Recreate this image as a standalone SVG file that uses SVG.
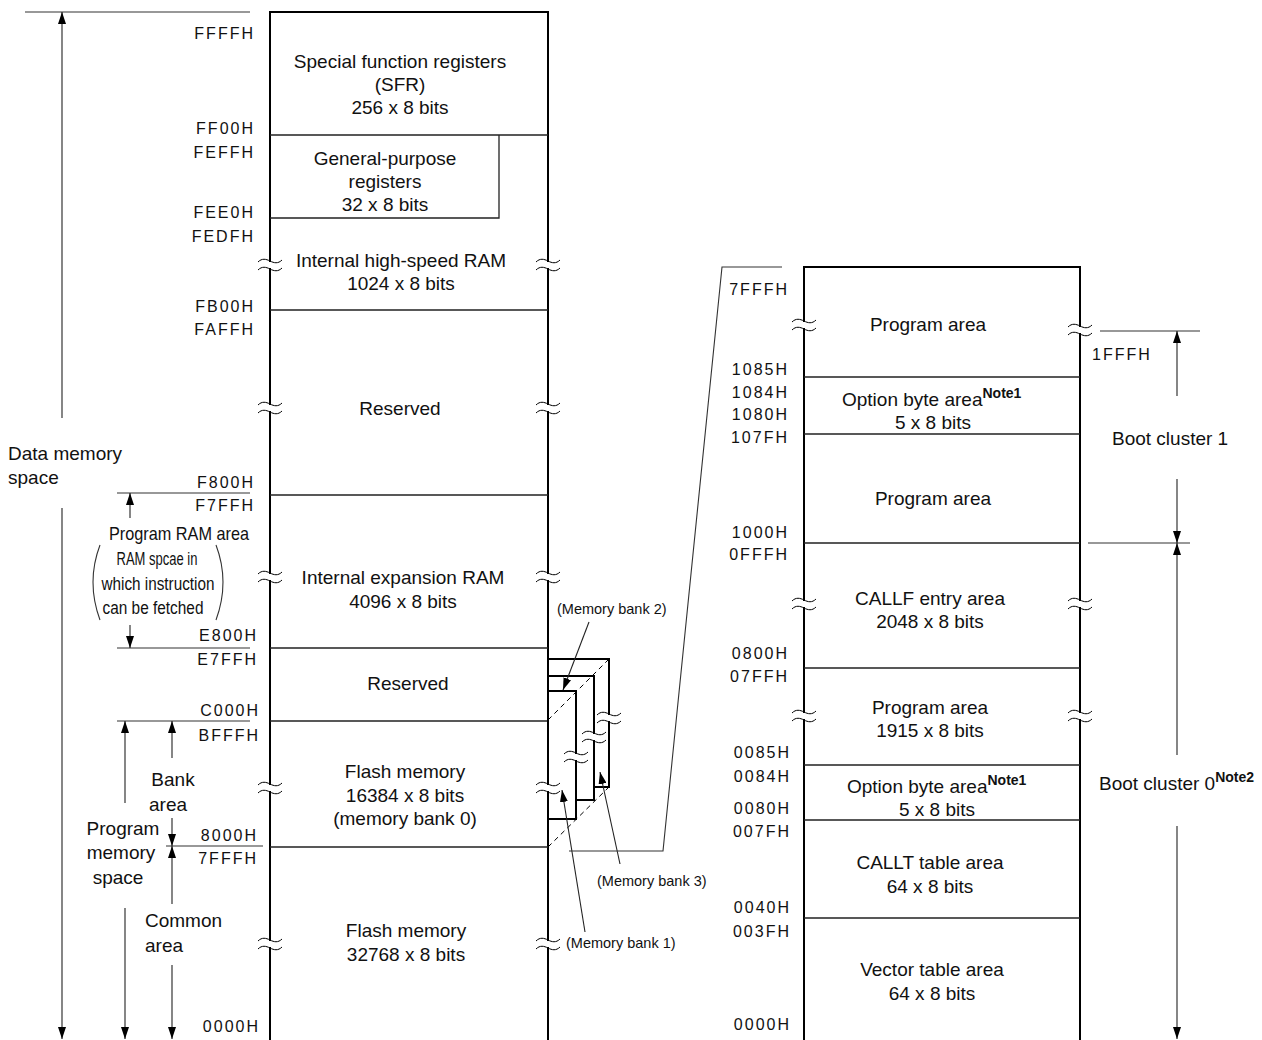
<svg xmlns="http://www.w3.org/2000/svg" xmlns:xlink="http://www.w3.org/1999/xlink" width="1262" height="1040" viewBox="0 0 1262 1040">
<style>
text{font-family:"Liberation Sans",Arial,sans-serif;fill:#111}
.t{font-size:19px;text-anchor:middle}
.ts{font-size:19px}
.a{font-size:16px;letter-spacing:2px;text-anchor:end}
.al{font-size:16px;letter-spacing:2px}
.sm{font-size:17.5px;text-anchor:middle}
.mb{font-size:14.5px}
.sup{font-size:14px;font-weight:bold}
.col{stroke:#000;stroke-width:2;fill:none}
.div{stroke:#222;stroke-width:1.3;fill:none}
.thin{stroke:#333;stroke-width:1.1;fill:none}
.arr{stroke:#222;stroke-width:1.1;fill:none;marker-end:url(#ah)}
.bank{stroke:#000;stroke-width:2;fill:#fff}
.dash{stroke:#000;stroke-width:1;stroke-dasharray:5,4;fill:none}
</style>
<defs>
<marker id="ah" markerUnits="userSpaceOnUse" viewBox="0 0 12 8" markerWidth="12" markerHeight="8" refX="12" refY="4" orient="auto">
<path d="M0,0 L12,4 L0,8 z" fill="#000"/>
</marker>
<g id="brk">
<rect x="-3" y="-3" width="6" height="6" fill="#fff"/>
<path d="M-12,-3 C-8,-7 -4,-6 0,-4 S8,-1 12,-5 M-12,5 C-8,1 -4,2 0,4 S8,7 12,3" fill="none" stroke="#000" stroke-width="1"/>
</g>
</defs>
<rect width="1262" height="1040" fill="#fff"/>

<!-- left memory column -->
<g id="data-column">
<path class="col" d="M270,1040 V12 H548 V1040"/>
<path class="div" d="M270,135 H548 M270,218 H499 V135 M270,310 H548 M270,495 H548 M270,648 H548 M270,721 H548 M270,847 H548"/>
</g>
<g id="sfr"><text class="t" x="400" y="68">Special function registers</text><text class="t" x="400" y="91">(SFR)</text><text class="t" x="400" y="114">256 x 8 bits</text></g>
<g id="gpr"><text class="t" x="385" y="165">General-purpose</text><text class="t" x="385" y="188">registers</text><text class="t" x="385" y="211">32 x 8 bits</text></g>
<g id="hsram"><text class="t" x="401" y="267">Internal high-speed RAM</text><text class="t" x="401" y="290">1024 x 8 bits</text></g>
<g id="reserved1"><text class="t" x="400" y="415">Reserved</text></g>
<g id="exram"><text class="t" x="403" y="584">Internal expansion RAM</text><text class="t" x="403" y="608">4096 x 8 bits</text></g>
<g id="reserved2"><text class="t" x="408" y="690">Reserved</text></g>
<g id="flash-bank"><text class="t" x="405" y="778">Flash memory</text><text class="t" x="405" y="802">16384 x 8 bits</text><text class="t" x="405" y="825">(memory bank 0)</text></g>
<g id="flash-common"><text class="t" x="406" y="937">Flash memory</text><text class="t" x="406" y="961">32768 x 8 bits</text></g>

<!-- memory banks -->
<g id="banks">
<rect class="bank" x="548" y="659" width="61" height="128"/>
<rect class="bank" x="548" y="676" width="46" height="124"/>
<rect class="bank" x="548" y="691" width="28" height="128"/>
<path class="dash" d="M548,720 L609,659 M548,847 L609,787"/>
</g>

<!-- left addresses -->
<g id="left-addresses">
<text class="a" x="255" y="39">FFFFH</text>
<text class="a" x="255" y="134">FF00H</text>
<text class="a" x="255" y="158">FEFFH</text>
<text class="a" x="255" y="218">FEE0H</text>
<text class="a" x="255" y="242">FEDFH</text>
<text class="a" x="255" y="312">FB00H</text>
<text class="a" x="255" y="335">FAFFH</text>
<text class="a" x="255" y="488">F800H</text>
<text class="a" x="255" y="511">F7FFH</text>
<text class="a" x="258" y="641">E800H</text>
<text class="a" x="258" y="665">E7FFH</text>
<text class="a" x="260" y="716">C000H</text>
<text class="a" x="260" y="741">BFFFH</text>
<text class="a" x="258" y="841">8000H</text>
<text class="a" x="258" y="864">7FFFH</text>
<text class="a" x="260" y="1032">0000H</text>
</g>

<!-- left annotations -->
<g id="left-labels">
<text class="ts" x="8" y="460">Data memory</text>
<text class="ts" x="8" y="484">space</text>
<text class="ts" x="109" y="540" textLength="140" lengthAdjust="spacingAndGlyphs">Program RAM area</text>
<text class="sm" x="157" y="565" textLength="81" lengthAdjust="spacingAndGlyphs">RAM spcae in</text>
<text class="sm" x="158" y="590" textLength="113" lengthAdjust="spacingAndGlyphs">which instruction</text>
<text class="sm" x="153" y="614" textLength="101" lengthAdjust="spacingAndGlyphs">can be fetched</text>
<path class="thin" d="M100,545 Q86,582 100,620 M216,545 Q230,582 216,620"/>
<text class="t" x="173" y="786">Bank</text>
<text class="t" x="168" y="811">area</text>
<text class="t" x="123" y="835">Program</text>
<text class="t" x="121" y="859">memory</text>
<text class="t" x="118" y="884">space</text>
<text class="ts" x="145" y="927">Common</text>
<text class="ts" x="145" y="952">area</text>
</g>

<!-- right memory column -->
<g id="code-column">
<path class="col" d="M804,1040 V267 H1080 V1040"/>
<path class="div" d="M804,377 H1080 M804,434 H1080 M804,543 H1080 M804,668 H1080 M804,765 H1080 M804,820 H1080 M804,918 H1080"/>
</g>
<g id="prog1"><text class="t" x="928" y="331">Program area</text></g>
<g id="opt1"><text class="ts" x="842" y="406">Option byte area<tspan class="sup" dy="-8">Note1</tspan></text><text class="t" x="933" y="429">5 x 8 bits</text></g>
<g id="prog2"><text class="t" x="933" y="505">Program area</text></g>
<g id="callf"><text class="t" x="930" y="605">CALLF entry area</text><text class="t" x="930" y="628">2048 x 8 bits</text></g>
<g id="prog3"><text class="t" x="930" y="714">Program area</text><text class="t" x="930" y="737">1915 x 8 bits</text></g>
<g id="opt0"><text class="ts" x="847" y="793">Option byte area<tspan class="sup" dy="-8">Note1</tspan></text><text class="t" x="937" y="816">5 x 8 bits</text></g>
<g id="callt"><text class="t" x="930" y="869">CALLT table area</text><text class="t" x="930" y="893">64 x 8 bits</text></g>
<g id="vector"><text class="t" x="932" y="976">Vector table area</text><text class="t" x="932" y="1000">64 x 8 bits</text></g>

<g id="right-addresses">
<text class="a" x="789" y="295">7FFFH</text>
<text class="a" x="789" y="375">1085H</text>
<text class="a" x="789" y="398">1084H</text>
<text class="a" x="789" y="420">1080H</text>
<text class="a" x="789" y="443">107FH</text>
<text class="a" x="789" y="538">1000H</text>
<text class="a" x="789" y="560">0FFFH</text>
<text class="a" x="789" y="659">0800H</text>
<text class="a" x="789" y="682">07FFH</text>
<text class="a" x="791" y="758">0085H</text>
<text class="a" x="791" y="782">0084H</text>
<text class="a" x="791" y="814">0080H</text>
<text class="a" x="791" y="837">007FH</text>
<text class="a" x="791" y="913">0040H</text>
<text class="a" x="791" y="937">003FH</text>
<text class="a" x="791" y="1030">0000H</text>
<text class="al" x="1092" y="360">1FFFH</text>
</g>
<g id="right-labels">
<text class="ts" x="1112" y="445">Boot cluster 1</text>
<text class="ts" x="1099" y="790">Boot cluster 0<tspan class="sup" dy="-8">Note2</tspan></text>
</g>
<g id="bank-labels">
<text class="mb" x="557" y="614">(Memory bank 2)</text>
<text class="mb" x="597" y="886">(Memory bank 3)</text>
<text class="mb" x="566" y="948">(Memory bank 1)</text>
</g>

<!-- connectors -->
<g id="connectors">
<path class="thin" d="M25,12 H250 M117,493 H250 M117,648 H250 M117,721 H250 M166,846 H263 M1100,331 H1200 M1088,543 H1190"/>
<path class="arr" d="M62,418 V12"/>
<path class="arr" d="M62,508 V1039"/>
<path class="arr" d="M130,518 V493"/>
<path class="arr" d="M130,625 V648"/>
<path class="arr" d="M125,803 V721"/>
<path class="arr" d="M125,908 V1039"/>
<path class="arr" d="M172,758 V721"/>
<path class="arr" d="M172,818 V846"/>
<path class="arr" d="M172,904 V846"/>
<path class="arr" d="M172,965 V1039"/>
<path class="arr" d="M1177,396 V331"/>
<path class="arr" d="M1177,479 V543"/>
<path class="arr" d="M1177,755 V543"/>
<path class="arr" d="M1177,826 V1039"/>
<path class="arr" d="M589,622 L563,690"/>
<path class="arr" d="M620,864 L600,772"/>
<path class="arr" d="M585,932 L562,790"/>
<path class="thin" d="M569,851 H663 L722,267 H782"/>
</g>

<!-- break marks -->
<g id="breaks">
<use xlink:href="#brk" x="270" y="265"/><use xlink:href="#brk" x="548" y="265"/>
<use xlink:href="#brk" x="270" y="408"/><use xlink:href="#brk" x="548" y="408"/>
<use xlink:href="#brk" x="270" y="577"/><use xlink:href="#brk" x="548" y="577"/>
<use xlink:href="#brk" x="270" y="788"/><use xlink:href="#brk" x="548" y="788"/>
<use xlink:href="#brk" x="270" y="944"/><use xlink:href="#brk" x="548" y="944"/>
<use xlink:href="#brk" x="609" y="718"/><use xlink:href="#brk" x="594" y="737"/><use xlink:href="#brk" x="576" y="757"/>
<use xlink:href="#brk" x="804" y="325"/><use xlink:href="#brk" x="1080" y="330"/>
<use xlink:href="#brk" x="804" y="604"/><use xlink:href="#brk" x="1080" y="604"/>
<use xlink:href="#brk" x="804" y="716"/><use xlink:href="#brk" x="1080" y="716"/>
</g>
</svg>
